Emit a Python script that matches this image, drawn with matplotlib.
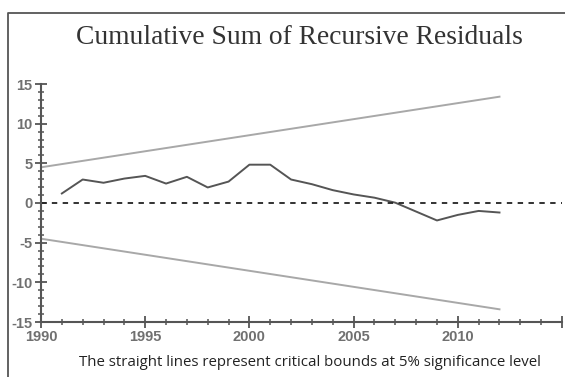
import matplotlib.pyplot as plt
from matplotlib.lines import Line2D
from matplotlib.ticker import MultipleLocator

plt.rcParams['axes.unicode_minus'] = False

# CUSUM statistic, 1991-2012
years = list(range(1991, 2013))
cusum = [1.2, 2.96, 2.55, 3.08, 3.42, 2.45, 3.3, 1.96, 2.7, 4.83, 4.83,
         2.96, 2.37, 1.62, 1.08, 0.67, 0.04, -1.08, -2.2, -1.5, -1.0, -1.2]

# 5% critical bounds (straight lines)
bound_years = [1990, 2012]
upper_bound = [4.5, 13.4]
lower_bound = [-4.5, -13.4]

x_ticks = [1990, 1995, 2000, 2005, 2010, 2015]
x_labels = ['1990', '1995', '2000', '2005', '2010', '']

fig = plt.figure(figsize=(5.65, 3.77), dpi=100)
ax = fig.add_axes([41/565, 1 - 322/377, (562 - 41)/565, (322 - 84)/377])

ax.plot(bound_years, upper_bound, color='#a8a8a8', lw=1.4)
ax.plot(bound_years, lower_bound, color='#a8a8a8', lw=1.4)
ax.plot(years, cusum, color='#555555', lw=1.4)
ax.axhline(0, color='#222222', lw=1.3, ls=(0, (3, 3)))

ax.set_xlim(1990, 2015)
ax.set_ylim(-15, 15)
ax.set_xticks(x_ticks)
ax.set_xticklabels(x_labels)
ax.xaxis.set_minor_locator(MultipleLocator(1))
ax.yaxis.set_major_locator(MultipleLocator(5))
ax.yaxis.set_minor_locator(MultipleLocator(1))

for s in ['top', 'right']:
    ax.spines[s].set_visible(False)
for s in ['left', 'bottom']:
    ax.spines[s].set_color('#555555')
    ax.spines[s].set_linewidth(1.5)

ax.tick_params(which='major', direction='inout', length=8, width=1.3,
               color='#555555', labelcolor='#707070', labelsize=10.5, pad=2)
ax.tick_params(which='minor', direction='inout', length=4, width=1.1,
               color='#555555')
for lab in ax.get_xticklabels() + ax.get_yticklabels():
    lab.set_family('Liberation Sans')
    lab.set_fontweight('bold')

fig.text(299/565, 1 - 37/377, 'Cumulative Sum of Recursive Residuals',
         family='Liberation Serif', fontsize=19.8, color='#333333',
         ha='center', va='center')
fig.text(309.5/565, 1 - 363/377,
         'The straight lines represent critical bounds at 5% significance level',
         family='Open Sans', fontsize=10.85, color='#222222',
         ha='center', va='center')

# frame around the figure (only top and left edges visible)
fig.add_artist(Line2D([8/565, 8/565, 1.0], [0.0, 1 - 12.5/377, 1 - 12.5/377],
                      transform=fig.transFigure, color='#555555', lw=1.3))

fig.savefig('out.png', dpi=100)
